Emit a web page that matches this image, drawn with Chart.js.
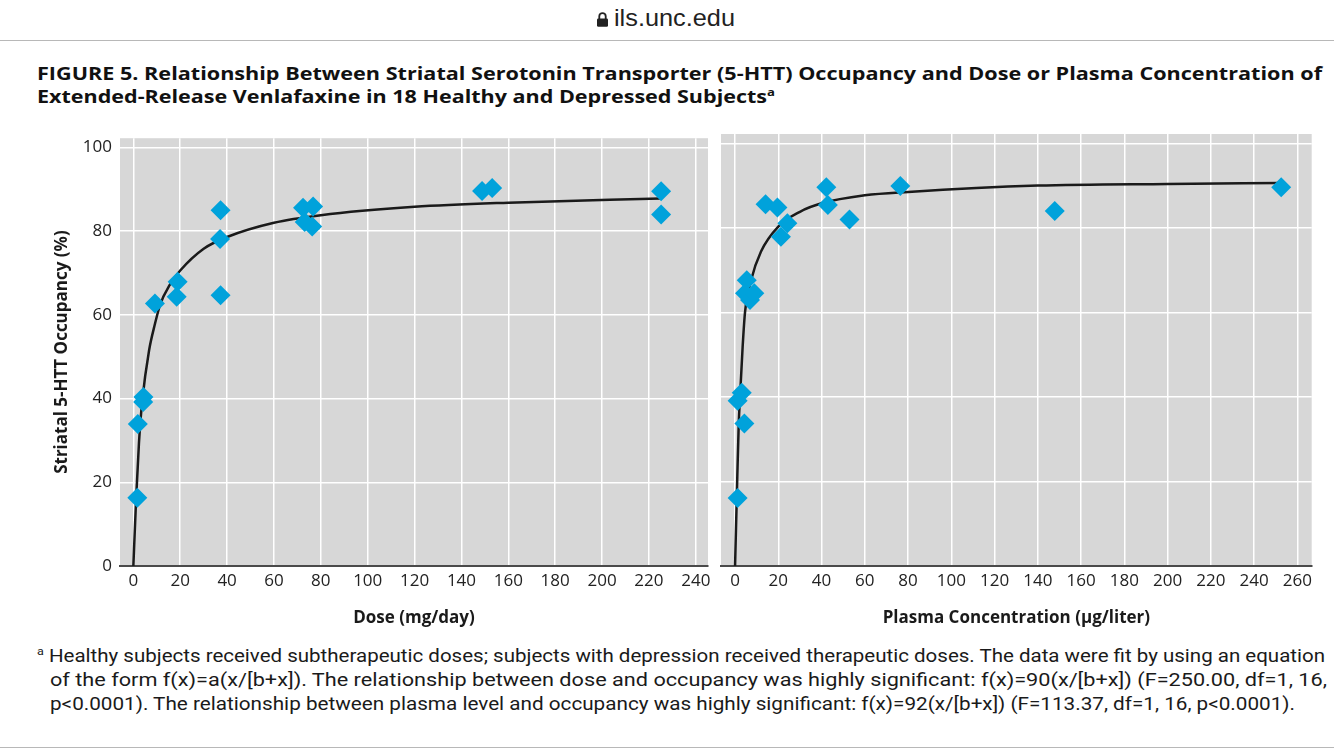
<!DOCTYPE html>
<html>
<head>
<meta charset="utf-8">
<script src="https://cdn.jsdelivr.net/npm/chart.js@4.4.1/dist/chart.umd.min.js"></script>
<style>
  body { margin: 0; width: 1334px; height: 750px; position: relative; background: #fff; overflow: hidden; }
  #bar { position: absolute; left: 0; top: 0; width: 1334px; height: 40px; border-bottom: 1px solid #b8b8b8; }
  #lock { position: absolute; left: 597px; top: 11px; }
  .line { position: absolute; white-space: nowrap; transform-origin: 0 0; color: #111; }
  .url { font: 24px "Liberation Sans", Arial, sans-serif; color: #222; }
  .ttl { font: bold 18px "Open Sans", sans-serif; }
  .note { font: 18px "Roboto", sans-serif; color: #1a1a1a; }
  sup { font-size: 11px; vertical-align: 7px; line-height: 0; }
  .panel { position: absolute; top: 120px; height: 520px; }
  #endline { position: absolute; left: 0; top: 747px; width: 1334px; border-top: 1px solid #b8b8b8; }
</style>
</head>
<body>
<div id="bar">
  <svg id="lock" width="11" height="17" viewBox="0 0 12 17">
    <path d="M2.5 8 V5 a3.5 3.5 0 0 1 7 0 V8" fill="none" stroke="#222" stroke-width="2"/>
    <rect x="0" y="7.5" width="12" height="9" rx="1.5" fill="#222"/>
  </svg>
  <div class="line url" style="left:614px;top:4px" data-w="121">ils.unc.edu</div>
</div>

<div class="line ttl" style="left:37px;top:61px" data-w="1285">FIGURE 5. Relationship Between Striatal Serotonin Transporter (5-HTT) Occupancy and Dose or Plasma Concentration of</div>
<div class="line ttl" style="left:37px;top:84px" data-w="738">Extended-Release Venlafaxine in 18 Healthy and Depressed Subjects<sup>a</sup></div>

<div class="panel" style="left:0;width:718px"><canvas id="doseChart"></canvas></div>
<div class="panel" style="left:711px;width:623px"><canvas id="plasmaChart"></canvas></div>

<div class="line note" style="left:37px;top:645px" data-w="1288"><sup>a</sup> Healthy subjects received subtherapeutic doses; subjects with depression received therapeutic doses. The data were fit by using an equation</div>
<div class="line note" style="left:50px;top:669px" data-w="1277">of the form f(x)=a(x/[b+x]). The relationship between dose and occupancy was highly significant: f(x)=90(x/[b+x]) (F=250.00, df=1, 16,</div>
<div class="line note" style="left:50px;top:693px" data-w="1245">p&lt;0.0001). The relationship between plasma level and occupancy was highly significant: f(x)=92(x/[b+x]) (F=113.37, df=1, 16, p&lt;0.0001).</div>
<div id="endline"></div>

<script>
// subjects: dose (mg/day) vs occupancy (%)
const doseX = [1.7, 1.9, 4.3, 4.2, 9.2, 18.9, 18.5, 37.2, 37.0, 37.2, 72.4, 76.7, 73.1, 76.3, 148.8, 153.1, 225.2, 225.2];
const doseOcc = [16.3, 33.9, 40.4, 39.2, 62.7, 67.9, 64.3, 85.0, 78.1, 64.7, 85.6, 85.9, 82.2, 81.1, 89.6, 90.3, 89.5, 84.0];

// subjects: plasma concentration (µg/liter) vs occupancy (%)
const plasmaX = [1.2, 1.2, 3.1, 4.3, 5.4, 4.6, 6.9, 8.9, 14.1, 19.6, 21.2, 24.2, 42.2, 42.9, 52.9, 76.4, 147.8, 252.5];
const plasmaOcc = [16.1, 39.1, 41.0, 33.7, 67.6, 64.5, 62.9, 64.5, 85.6, 84.8, 77.9, 81.1, 89.6, 85.4, 82.0, 89.9, 84.0, 89.6];

// fitted curves
const doseFitX = [0, 1.2, 2.4, 3.8, 6.7, 9.2, 11.4, 15.6, 20, 30, 40, 60, 80, 120, 160, 225];
const doseFitY = [0, 16.3, 29.5, 39.5, 51.5, 57.8, 62.4, 67.2, 70.6, 75.8, 78.6, 82, 83.8, 85.8, 86.8, 87.8];
const plasmaFitX = [0, 0.8, 1.7, 2.3, 3.5, 4.6, 7.4, 12, 20, 30, 40, 60, 80, 140, 200, 252];
const plasmaFitY = [0, 16.3, 33.7, 40, 51.8, 60, 67.6, 74.4, 80.3, 83.8, 85.8, 87.7, 88.5, 90, 90.4, 90.6];

// tick labels
const doseTicks = [0, 20, 40, 60, 80, 100, 120, 140, 160, 180, 200, 220, 240];
const plasmaTicks = [0, 20, 40, 60, 80, 100, 120, 140, 160, 180, 200, 220, 240, 260];
const occTicks = [0, 20, 40, 60, 80, 100];

// fit long text lines to the widths in the figure
document.querySelectorAll('[data-w]').forEach(el => {
  const w = el.getBoundingClientRect().width;
  el.style.transform = 'scaleX(' + (el.dataset.w / w) + ')';
});

const panelBg = {
  id: 'panelBg',
  beforeDraw(chart) {
    const {ctx, chartArea: a} = chart;
    ctx.save();
    ctx.fillStyle = '#d7d7d7';
    ctx.fillRect(a.left, a.top, a.right - a.left, a.bottom - a.top);
    ctx.restore();
  }
};

const tickFont = {family: 'Open Sans', size: 17};
const titleFont = {family: 'Open Sans', size: 17, weight: 'bold'};

function makeChart(id, xs, ys, fitX, fitY, xTicks, xMin, xMax, xTitle, isLeft) {
  const ctx = document.getElementById(id);
  return new Chart(ctx, {
    data: {
      datasets: [{
        type: 'scatter',
        data: xs.map((x, i) => ({x: x, y: ys[i]})),
        pointStyle: 'rectRot',
        pointRadius: 10,
        pointHoverRadius: 10,
        backgroundColor: '#00a2db',
        borderWidth: 0,
        order: 1
      }, {
        type: 'line',
        data: fitX.map((x, i) => ({x: x, y: fitY[i]})),
        borderColor: '#1a1a1a',
        borderWidth: 2.5,
        pointRadius: 0,
        cubicInterpolationMode: 'monotone',
        fill: false,
        order: 2
      }]
    },
    options: {
      responsive: true,
      maintainAspectRatio: false,
      animation: false,
      layout: {padding: {top: 14, right: isLeft ? 0 : 22.3, left: 0, bottom: 0}},
      plugins: {legend: {display: false}, tooltip: {enabled: false}},
      scales: {
        x: {
          type: 'linear',
          min: xMin,
          max: xMax,
          afterBuildTicks: s => { s.ticks = xTicks.map(v => ({value: v})); },
          afterFit: s => { s.height = 74; },
          grid: {color: '#ffffff', lineWidth: 1.5, drawTicks: false},
          border: {display: true, color: '#4a4a4a', width: 2},
          ticks: {padding: 5, font: tickFont, color: '#222', maxRotation: 0},
          title: {display: true, text: xTitle, font: titleFont, color: '#1a1a1a', padding: {top: 0, bottom: 12}}
        },
        y: {
          min: 0,
          max: 102.2,
          afterBuildTicks: s => { s.ticks = occTicks.map(v => ({value: v})); },
          afterFit: s => { s.width = isLeft ? 120 : 1; },
          grid: {color: ctx => ctx.tick && ctx.tick.value === 0 ? 'rgba(0,0,0,0)' : '#ffffff', lineWidth: 1.5, drawTicks: false},
          border: {display: false},
          ticks: {display: isLeft, padding: 8, font: tickFont, color: '#222'},
          title: {display: isLeft, text: 'Striatal 5-HTT Occupancy (%)', font: titleFont, color: '#1a1a1a', padding: {top: 51.5, bottom: 0}}
        }
      }
    },
    plugins: [panelBg]
  });
}

makeChart('doseChart', doseX, doseOcc, doseFitX, doseFitY, doseTicks, -5.7, 245.2, 'Dose (mg/day)', true);
makeChart('plasmaChart', plasmaX, plasmaOcc, plasmaFitX, plasmaFitY, plasmaTicks, -6.5, 266.6, 'Plasma Concentration (µg/liter)', false);
</script>
</body>
</html>
